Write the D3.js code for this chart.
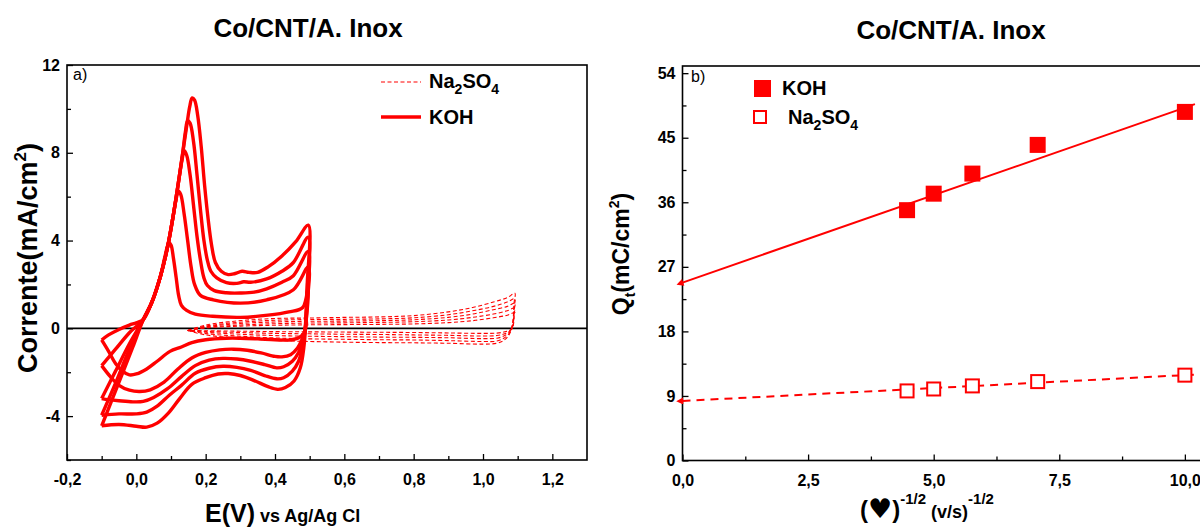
<!DOCTYPE html>
<html><head><meta charset="utf-8">
<script src="https://cdn.jsdelivr.net/npm/d3@7"></script>
<style>
body{margin:0;background:#fff}
svg{display:block}
text{font-family:"Liberation Sans",Arial,sans-serif;fill:#000}
</style>
</head><body>
<svg id="c" width="1200" height="527"></svg>
<script>
// ---------------- DATA ----------------
// Panel a) cyclic voltammograms, KOH (5 scan rates), [E (V), I (mA/cm2)]
const koh1 = [[-0.1,-4.44],[-0.07,-3.25],[-0.04,-2.05],[-0.01,-0.85],[0.02,0.4],[0.045,1.2],[0.07,2.4],[0.09,3.7],[0.105,5.0],[0.12,6.5],[0.133,7.9],[0.146,9.3],[0.154,10.1],[0.161,10.5],[0.168,10.4],[0.177,9.7],[0.187,8.3],[0.197,6.5],[0.207,5.0],[0.217,3.8],[0.228,3.0],[0.245,2.6],[0.265,2.45],[0.285,2.5],[0.305,2.6],[0.325,2.55],[0.35,2.55],[0.38,2.8],[0.42,3.3],[0.46,3.95],[0.496,4.7],
  [0.493,2.0],[0.489,0.3],[0.483,-0.9],[0.473,-1.8],[0.455,-2.4],[0.43,-2.7],[0.408,-2.78],[0.38,-2.66],[0.34,-2.38],[0.3,-2.15],[0.265,-2.06],[0.236,-2.08],[0.2,-2.25],[0.16,-2.55],[0.125,-3.2],[0.093,-3.85],[0.06,-4.32],[0.03,-4.5],[0.0,-4.46],[-0.05,-4.38],[-0.1,-4.44]];
const koh2 = [[-0.1,-3.96],[-0.06,-2.5],[-0.02,-0.95],[0.02,0.4],[0.045,1.2],[0.07,2.4],[0.09,3.7],[0.105,5.0],[0.12,6.5],[0.133,7.9],[0.142,9.0],[0.148,9.46],[0.155,9.35],[0.165,8.5],[0.175,7.0],[0.185,5.4],[0.195,4.0],[0.205,3.1],[0.215,2.6],[0.232,2.3],[0.26,2.08],[0.29,2.05],[0.31,2.12],[0.33,2.1],[0.376,2.25],[0.42,2.6],[0.453,3.0],[0.496,4.15],
  [0.492,1.5],[0.487,0.0],[0.48,-0.8],[0.468,-1.5],[0.45,-1.95],[0.425,-2.25],[0.405,-2.3],[0.37,-2.15],[0.33,-1.92],[0.29,-1.78],[0.25,-1.73],[0.21,-1.82],[0.17,-2.05],[0.13,-2.6],[0.095,-3.05],[0.06,-3.55],[0.03,-3.82],[0.0,-3.9],[-0.05,-3.9],[-0.1,-3.96]];
const koh3 = [[-0.1,-3.2],[-0.06,-1.95],[-0.02,-0.7],[0.02,0.4],[0.045,1.2],[0.07,2.4],[0.09,3.7],[0.105,5.0],[0.12,6.5],[0.132,7.7],[0.138,8.09],[0.145,7.9],[0.155,7.0],[0.165,5.6],[0.175,4.2],[0.185,3.1],[0.195,2.3],[0.205,1.95],[0.225,1.72],[0.26,1.62],[0.3,1.61],[0.34,1.65],[0.376,1.8],[0.42,2.1],[0.453,2.4],[0.496,3.5],
  [0.492,1.2],[0.487,-0.1],[0.48,-0.6],[0.468,-1.1],[0.45,-1.5],[0.425,-1.75],[0.405,-1.8],[0.37,-1.65],[0.33,-1.5],[0.29,-1.4],[0.25,-1.37],[0.21,-1.45],[0.17,-1.7],[0.13,-2.2],[0.09,-2.75],[0.05,-3.15],[0.02,-3.33],[-0.01,-3.35],[-0.05,-3.3],[-0.08,-3.25],[-0.1,-3.2]];
const koh4 = [[-0.1,-1.7],[-0.06,-0.95],[-0.02,-0.2],[0.02,0.4],[0.045,1.2],[0.07,2.4],[0.09,3.7],[0.105,5.0],[0.115,5.9],[0.121,6.26],[0.128,6.1],[0.138,5.2],[0.148,4.0],[0.158,2.8],[0.168,2.0],[0.185,1.5],[0.222,1.3],[0.3,1.15],[0.376,1.3],[0.453,1.76],[0.496,2.8],
  [0.492,1.0],[0.487,-0.1],[0.478,-0.5],[0.465,-0.9],[0.445,-1.2],[0.42,-1.3],[0.4,-1.28],[0.36,-1.12],[0.32,-1.0],[0.28,-0.95],[0.24,-0.98],[0.2,-1.1],[0.16,-1.35],[0.12,-1.85],[0.08,-2.45],[0.04,-2.8],[0.01,-2.88],[-0.02,-2.82],[-0.05,-2.6],[-0.075,-2.2],[-0.1,-1.7]];
const koh5 = [[-0.1,-0.53],[-0.08,-0.3],[-0.05,-0.05],[-0.02,0.15],[0.0,0.25],[0.02,0.4],[0.045,1.2],[0.07,2.4],[0.083,3.3],[0.094,3.9],[0.1,3.8],[0.107,3.2],[0.115,2.3],[0.122,1.5],[0.13,1.05],[0.145,0.82],[0.17,0.65],[0.22,0.55],[0.3,0.5],[0.38,0.6],[0.44,0.75],[0.48,0.95],[0.496,1.9],
  [0.49,0.4],[0.484,-0.2],[0.47,-0.42],[0.444,-0.53],[0.4,-0.52],[0.35,-0.48],[0.3,-0.45],[0.26,-0.45],[0.2,-0.52],[0.16,-0.65],[0.13,-0.85],[0.097,-1.05],[0.06,-1.5],[0.03,-1.85],[0.0,-2.08],[-0.02,-2.12],[-0.04,-1.95],[-0.06,-1.6],[-0.08,-1.05],[-0.1,-0.53]];

// Na2SO4 loops: potentials of forward / reverse sweeps and currents for 5 loops
const naEup   = [0.148,0.2,0.3,0.4,0.5,0.6,0.7,0.8,0.9,0.97,1.03,1.07,1.092];
const naEdown = [1.09,1.085,1.075,1.06,1.04,1.0,0.9,0.8,0.7,0.6,0.5,0.4,0.3,0.2,0.148];
const naUp1 = [-0.1,0.15,0.35,0.45,0.47,0.5,0.52,0.58,0.75,0.95,1.2,1.4,1.6];
const naUp2 = [-0.1,0.1,0.28,0.37,0.4,0.41,0.43,0.48,0.62,0.8,1.0,1.2,1.35];
const naUp3 = [-0.1,0.07,0.22,0.29,0.32,0.33,0.35,0.39,0.5,0.65,0.85,1.0,1.15];
const naUp4 = [-0.1,0.04,0.15,0.21,0.24,0.25,0.27,0.3,0.38,0.5,0.65,0.8,0.93];
const naUp5 = [-0.1,0.02,0.1,0.14,0.16,0.17,0.18,0.2,0.26,0.35,0.48,0.6,0.72];
const naDn1 = [1.2,0.2,-0.3,-0.55,-0.68,-0.72,-0.68,-0.66,-0.65,-0.63,-0.6,-0.55,-0.45,-0.3,-0.1];
const naDn2 = [1.0,0.15,-0.25,-0.45,-0.58,-0.6,-0.56,-0.53,-0.52,-0.5,-0.48,-0.44,-0.36,-0.24,-0.1];
const naDn3 = [0.85,0.1,-0.2,-0.35,-0.45,-0.47,-0.43,-0.41,-0.4,-0.38,-0.36,-0.33,-0.27,-0.18,-0.1];
const naDn4 = [0.7,0.05,-0.15,-0.26,-0.33,-0.35,-0.32,-0.3,-0.28,-0.27,-0.25,-0.23,-0.19,-0.14,-0.1];
const naDn5 = [0.55,0.0,-0.1,-0.17,-0.22,-0.23,-0.21,-0.19,-0.18,-0.17,-0.16,-0.15,-0.13,-0.11,-0.1];

// Panel b) charge vs v^-1/2
const invSqrtV = [4.47,5.0,5.77,7.07,10.0];
const qKOH     = [34.9,37.2,40.0,44.0,48.6];
const qNa      = [9.7,9.97,10.4,11.0,11.9];
const fitKOH = [24.8,2.44];   // intercept, slope
const fitNa  = [8.3,0.36];
const fitRange = [0,10.2];

// ticks
const xTicksA = [-0.2,0,0.2,0.4,0.6,0.8,1.0,1.2];
const xTickLabelsA = ["-0,2","0,0","0,2","0,4","0,6","0,8","1,0","1,2"];
const xMinorA = [-0.1,0.1,0.3,0.5,0.7,0.9,1.1];
const yTicksA = [-4,0,4,8,12];
const yTickLabelsA = ["-4","0","4","8","12"];
const yMinorA = [-6,-2,2,6,10];
const xTicksB = [0,2.5,5,7.5,10];
const xTickLabelsB = ["0,0","2,5","5,0","7,5","10,0"];
const xMinorB = [1.25,3.75,6.25,8.75];
const yTicksB = [0,9,18,27,36,45,54];
const yMinorB = [4.5,13.5,22.5,31.5,40.5,49.5];

// ---------------- DRAW ----------------
const svg = d3.select("#c");
const RED = "#ff0000";

const xA = d3.scaleLinear().domain([-0.2,1.3]).range([67,587]);
const yA = d3.scaleLinear().domain([-6,12]).range([460,65]);
const xB = d3.scaleLinear().domain([0,10.5]).range([682.5,1210]);
const yB = d3.scaleLinear().domain([0,55]).range([460.5,66]);

function axes(x, y, xt, xl, xm, yt, yl, ym) {
  const [x0,x1] = x.range(), [y0,y1] = y.range();
  const gx = svg.append("g").attr("transform",`translate(0,${y0})`)
    .call(d3.axisBottom(x).tickValues(xt).tickFormat((d,i)=>xl[i]).tickSizeInner(-6).tickSizeOuter(0).tickPadding(14));
  const gxm = svg.append("g").attr("transform",`translate(0,${y0})`)
    .call(d3.axisBottom(x).tickValues(xm).tickFormat("").tickSizeInner(-4).tickSizeOuter(0));
  const gy = svg.append("g").attr("transform",`translate(${x0},0)`)
    .call(d3.axisLeft(y).tickValues(yt).tickFormat((d,i)=>yl[i]).tickSizeInner(-6).tickSizeOuter(0).tickPadding(7));
  const gym = svg.append("g").attr("transform",`translate(${x0},0)`)
    .call(d3.axisLeft(y).tickValues(ym).tickFormat("").tickSizeInner(-4).tickSizeOuter(0));
  [gx,gxm,gy,gym].forEach(g=>{
    g.select(".domain").remove();
    g.selectAll("line").attr("stroke","#000").attr("stroke-width",1.3);
    g.selectAll("text").attr("font-size",16).attr("font-weight","bold").attr("font-family","Liberation Sans, Arial, sans-serif").attr("fill","#000");
  });
  svg.append("rect").attr("x",x0).attr("y",y1).attr("width",x1-x0).attr("height",y0-y1)
    .attr("fill","none").attr("stroke","#000").attr("stroke-width",1.6);
}

axes(xA,yA,xTicksA,xTickLabelsA,xMinorA,yTicksA,yTickLabelsA,yMinorA);
axes(xB,yB,xTicksB,xTickLabelsB,xMinorB,yTicksB,yTicksB.map(String),yMinorB);

svg.append("line").attr("x1",xA(-0.2)).attr("x2",xA(1.3)).attr("y1",yA(0)).attr("y2",yA(0))
  .attr("stroke","#000").attr("stroke-width",1.6);

const lineA = d3.line().x(d=>xA(d[0])).y(d=>yA(d[1])).curve(d3.curveCatmullRom.alpha(0.5));
const naUps = [naUp1,naUp2,naUp3,naUp4,naUp5], naDns = [naDn1,naDn2,naDn3,naDn4,naDn5];
naUps.forEach((up,k)=>{
  const pts = naEup.map((e,i)=>[e,up[i]]).concat(naEdown.map((e,i)=>[e,naDns[k][i]]));
  svg.append("path").attr("d",lineA(pts)).attr("fill","none").attr("stroke",RED)
    .attr("stroke-width",1.1).attr("stroke-dasharray","4,2.5");
});

[koh1,koh2,koh3,koh4,koh5].forEach(c=>{
  svg.append("path").attr("d",lineA(c)).attr("fill","none").attr("stroke",RED)
    .attr("stroke-width",3.4).attr("stroke-linejoin","round");
});

// Panel a legend
svg.append("line").attr("x1",381).attr("x2",421).attr("y1",82).attr("y2",82)
  .attr("stroke",RED).attr("stroke-width",1.1).attr("stroke-dasharray","4,2.5");
svg.append("line").attr("x1",381).attr("x2",421).attr("y1",117).attr("y2",117)
  .attr("stroke",RED).attr("stroke-width",3.5);
function naText(x,y,fs){
  const t = svg.append("text").attr("x",x).attr("y",y).attr("font-size",fs).attr("font-weight","bold");
  t.append("tspan").text("Na");
  t.append("tspan").text("2").attr("font-size",fs*0.7).attr("dy",fs*0.3);
  t.append("tspan").text("SO").attr("dy",-fs*0.3);
  t.append("tspan").text("4").attr("font-size",fs*0.7).attr("dy",fs*0.3);
  return t;
}
naText(429,88,20);
svg.append("text").attr("x",429).attr("y",124).attr("font-size",20).attr("font-weight","bold").text("KOH");
svg.append("text").attr("x",73).attr("y",80).attr("font-size",16).text("a)");

// titles
svg.append("text").attr("x",308).attr("y",37).attr("text-anchor","middle").attr("font-size",26).attr("font-weight","bold").text("Co/CNT/A. Inox");
svg.append("text").attr("x",951).attr("y",39).attr("text-anchor","middle").attr("font-size",26).attr("font-weight","bold").text("Co/CNT/A. Inox");

// axis titles panel a
const yl = svg.append("text").attr("transform","translate(37,258) rotate(-90)").attr("text-anchor","middle")
  .attr("font-size",27).attr("font-weight","bold");
yl.append("tspan").text("Corrente(mA/cm");
yl.append("tspan").text("2").attr("font-size",17).attr("dy",-11);
yl.append("tspan").text(")").attr("dy",11);
const xl = svg.append("text").attr("x",205).attr("y",522).attr("font-weight","bold");
xl.append("tspan").text("E(V)").attr("font-size",25);
xl.append("tspan").text(" vs Ag/Ag Cl").attr("font-size",18);

// Panel b: fits with arrows
const defs = svg.append("defs");
defs.append("marker").attr("id","arr").attr("viewBox","0 0 10 10").attr("refX",1).attr("refY",5)
  .attr("markerWidth",9).attr("markerHeight",7).attr("markerUnits","userSpaceOnUse").attr("orient","auto-start-reverse")
  .append("path").attr("d","M0,0 L10,5 L0,10 z").attr("fill",RED);
const lineB = d3.line().x(d=>xB(d[0])).y(d=>yB(d[1]));
svg.append("path").attr("d",lineB(fitRange.map(v=>[v,fitKOH[0]+fitKOH[1]*v])))
  .attr("stroke",RED).attr("stroke-width",2).attr("fill","none").attr("marker-start","url(#arr)");
svg.append("path").attr("d",lineB(fitRange.map(v=>[v,fitNa[0]+fitNa[1]*v])))
  .attr("stroke",RED).attr("stroke-width",2).attr("fill","none").attr("stroke-dasharray","8,6").attr("marker-start","url(#arr)");

svg.selectAll(".pk").data(invSqrtV).enter().append("rect")
  .attr("x",(d)=>xB(d)-8).attr("y",(d,i)=>yB(qKOH[i])-8).attr("width",16).attr("height",16).attr("fill",RED);
svg.selectAll(".pn").data(invSqrtV).enter().append("rect")
  .attr("x",(d)=>xB(d)-6.5).attr("y",(d,i)=>yB(qNa[i])-6.5).attr("width",13).attr("height",13)
  .attr("fill","#fff").attr("stroke",RED).attr("stroke-width",2);

// legend b
svg.append("rect").attr("x",754).attr("y",80).attr("width",17).attr("height",17).attr("fill",RED);
svg.append("text").attr("x",782).attr("y",95).attr("font-size",20).attr("font-weight","bold").text("KOH");
svg.append("rect").attr("x",754).attr("y",111).attr("width",12).attr("height",12).attr("fill","none").attr("stroke",RED).attr("stroke-width",2);
naText(788,124,20);
svg.append("text").attr("x",691).attr("y",82).attr("font-size",16).text("b)");

// axis titles panel b
const ylb = svg.append("text").attr("transform","translate(629,254) rotate(-90)").attr("text-anchor","middle")
  .attr("font-size",23).attr("font-weight","bold");
ylb.append("tspan").text("Q");
ylb.append("tspan").text("t").attr("font-size",14).attr("dy",6);
ylb.append("tspan").text("(mC/cm").attr("dy",-6);
ylb.append("tspan").text("2").attr("font-size",14).attr("dy",-10);
ylb.append("tspan").text(")").attr("dy",10);
const xlb = svg.append("text").attr("x",860).attr("y",518).attr("font-weight","bold");
xlb.append("tspan").text("(").attr("font-size",24);
xlb.append("tspan").text("\u2665").attr("font-size",27).attr("font-family","DejaVu Sans");
xlb.append("tspan").text(")").attr("font-size",24);
xlb.append("tspan").text("-1/2").attr("font-size",15).attr("dy",-14);
xlb.append("tspan").text(" (v/s)").attr("font-size",18).attr("dy",14);
xlb.append("tspan").text("-1/2").attr("font-size",15).attr("dy",-14);
</script>
</body></html>
